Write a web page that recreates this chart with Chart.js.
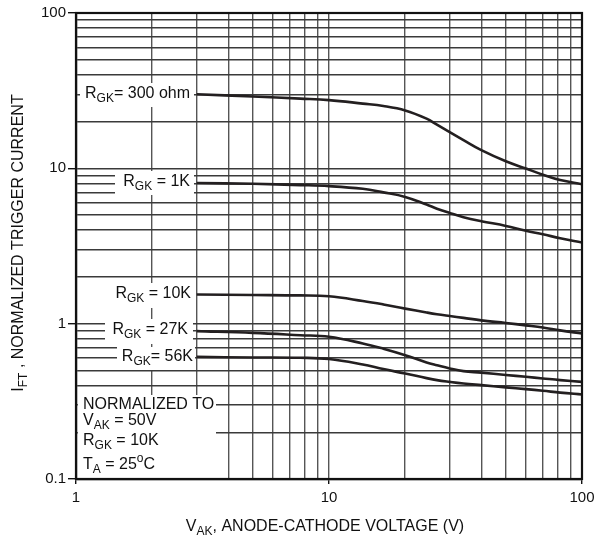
<!DOCTYPE html>
<html>
<head>
<meta charset="utf-8">
<script src="https://cdn.jsdelivr.net/npm/chart.js@4.4.0/dist/chart.umd.min.js"></script>
<style>
html,body{margin:0;padding:0;background:#fff;}
#wrap{width:605px;height:550px;}
</style>
</head>
<body>
<div id="wrap"><canvas id="c" width="605" height="550"></canvas></div>
<script>
// ---- data ----
const vak = [3, 5, 7.7, 10, 13.6, 16.4, 20, 24.3, 26.7, 30, 34, 40, 50, 60, 70, 82, 100];
const ift300 = [30, 29, 28.1, 27.5, 26.1, 25.2, 23.6, 20.9, 19.1, 17.1, 15.2, 13.1, 11.1, 9.97, 9.1, 8.4, 7.9];
const ift1k  = [8.05, 7.95, 7.8, 7.68, 7.38, 7.0, 6.55, 5.85, 5.5, 5.16, 4.85, 4.57, 4.26, 3.96, 3.76, 3.55, 3.33];
const ift10k = [1.54, 1.53, 1.52, 1.50, 1.40, 1.33, 1.25, 1.18, 1.15, 1.12, 1.09, 1.05, 1.01, 0.975, 0.945, 0.905, 0.865];
const ift27k = [0.895, 0.873, 0.843, 0.823, 0.746, 0.69, 0.627, 0.563, 0.54, 0.515, 0.495, 0.484, 0.467, 0.455, 0.444, 0.433, 0.422];
const ift56k = [0.611, 0.606, 0.603, 0.592, 0.546, 0.51, 0.478, 0.446, 0.433, 0.422, 0.412, 0.402, 0.389, 0.379, 0.37, 0.36, 0.35];
const xTickValues = [1,2,3,4,5,6,7,8,9,10,20,30,40,50,60,70,80,90,100];
const yTickValues = [0.1,0.2,0.3,0.4,0.5,0.6,0.7,0.8,0.9,1,2,3,4,5,6,7,8,9,10,20,30,40,50,60,70,80,90,100];
const xMajor = [1, 10, 100];
const yMajor = [0.1, 1, 10, 100];
const xTickLabels = ['1', '10', '100'];
const yTickLabels = ['0.1', '1', '10', '100'];

const FONT = '"Liberation Sans", Arial, Helvetica, sans-serif';
const INK = '#231f20';

function pts(ys){ return vak.map((v,i)=>({x:v, y:ys[i]})); }
function isMajor(v, list){ return list.some(m => Math.abs(m - v) / m < 1e-6); }

function ds(ys){
  return {data: pts(ys), borderColor: INK, borderWidth: 2.6, pointRadius: 0,
          fill: false, tension: 0.4, cubicInterpolationMode: 'default'};
}

// rich text: parts [{t, sub, sup}]
function subSize(size){ return Math.round(size*0.72); }
function richWidth(ctx, parts, size){
  let w = 0;
  for (const p of parts){
    ctx.font = ((p.sub||p.sup) ? subSize(size) : size) + 'px ' + FONT;
    w += ctx.measureText(p.t).width;
  }
  return w;
}
function drawRich(ctx, parts, x, y, size, align){
  const w = richWidth(ctx, parts, size);
  let cx = align === 'right' ? x - w : (align === 'center' ? x - w/2 : x);
  ctx.textBaseline = 'middle';
  ctx.textAlign = 'left';
  ctx.fillStyle = '#111';
  for (const p of parts){
    const s = (p.sub||p.sup) ? subSize(size) : size;
    ctx.font = s + 'px ' + FONT;
    let dy = p.sub ? size*0.32 : (p.sup ? -size*0.38 : 0);
    ctx.fillText(p.t, cx, y + dy);
    cx += ctx.measureText(p.t).width;
  }
  return w;
}

const LS = 16;
const labels = [
  {parts:[{t:'R'},{t:'GK',sub:true},{t:'= 300 ohm'}], x:190, y:94, box:[80,83,194,107]},
  {parts:[{t:'R'},{t:'GK',sub:true},{t:' = 1K'}], x:190, y:182, box:[115,171,194,195]},
  {parts:[{t:'R'},{t:'GK',sub:true},{t:' = 10K'}], x:191, y:294, box:[108,283,194,308]},
  {parts:[{t:'R'},{t:'GK',sub:true},{t:' = 27K'}], x:188, y:330, box:[105,319,193,344]},
  {parts:[{t:'R'},{t:'GK',sub:true},{t:'= 56K'}], x:193, y:357, box:[117,347,195,370]}
];
const noteLines = [
  {parts:[{t:'NORMALIZED TO'}], y:405},
  {parts:[{t:'V'},{t:'AK',sub:true},{t:' = 50V'}], y:421},
  {parts:[{t:'R'},{t:'GK',sub:true},{t:' = 10K'}], y:441},
  {parts:[{t:'T'},{t:'A',sub:true},{t:' = 25'},{t:'o',sup:true},{t:'C'}], y:465}
];

const annot = {
  id: 'annot',
  beforeDatasetsDraw(chart){
    const ctx = chart.ctx;
    ctx.save();
    ctx.fillStyle = '#fff';
    for (const l of labels){
      ctx.fillRect(l.box[0], l.box[1], l.box[2]-l.box[0], l.box[3]-l.box[1]);
    }
    ctx.fillRect(78, 395, 216-78, 478-395);
    for (const l of labels){ drawRich(ctx, l.parts, l.x, l.y, LS, 'right'); }
    for (const n of noteLines){ drawRich(ctx, n.parts, 83, n.y, LS, 'left'); }
    ctx.restore();
  },
  afterDraw(chart){
    const ctx = chart.ctx;
    const a = chart.chartArea;
    ctx.save();
    ctx.strokeStyle = '#111';
    ctx.lineWidth = 2.2;
    ctx.strokeRect(a.left, a.top, a.right - a.left, a.bottom - a.top);
    // x title
    drawRich(ctx, [{t:'V'},{t:'AK',sub:true},{t:', ANODE-CATHODE VOLTAGE (V)'}], 325, 527, LS, 'center');
    // y title
    ctx.translate(19, 243);
    ctx.rotate(-Math.PI/2);
    drawRich(ctx, [{t:'I'},{t:'FT',sub:true},{t:' , NORMALIZED TRIGGER CURRENT'}], 0, 0, LS, 'center');
    ctx.restore();
  }
};

new Chart(document.getElementById('c'), {
  type: 'line',
  data: { datasets: [ds(ift300), ds(ift1k), ds(ift10k), ds(ift27k), ds(ift56k)] },
  options: {
    responsive: false,
    animation: false,
    devicePixelRatio: 1,
    layout: { padding: { top: 13, right: 23, left: 0, bottom: 0 } },
    plugins: { legend: { display: false }, tooltip: { enabled: false } },
    scales: {
      x: {
        type: 'logarithmic', min: 1, max: 100,
        afterBuildTicks(s){ s.ticks = xTickValues.map(v => ({value: v})); },
        afterFit(s){ s.height = 71; },
        grid: {
          color: '#555', lineWidth: 1.4, drawTicks: true, tickLength: 5,
          tickColor: c => (c.tick && isMajor(c.tick.value, xMajor)) ? '#111' : 'rgba(0,0,0,0)'
        },
        border: { color: '#111', width: 2.2 },
        ticks: {
          autoSkip: false, maxRotation: 0, padding: 5, color: '#111',
          font: { family: FONT, size: 15 },
          callback: v => { const i = xMajor.findIndex(m => Math.abs(m - v)/m < 1e-6); return i >= 0 ? xTickLabels[i] : ''; }
        }
      },
      y: {
        type: 'logarithmic', min: 0.1, max: 100,
        afterBuildTicks(s){ s.ticks = yTickValues.map(v => ({value: v})); },
        afterFit(s){ s.width = 76; },
        grid: {
          color: '#3a3a3a', lineWidth: 1.4, drawTicks: true, tickLength: 8,
          tickColor: c => (c.tick && isMajor(c.tick.value, yMajor)) ? '#111' : 'rgba(0,0,0,0)'
        },
        border: { color: '#111', width: 2.2 },
        ticks: {
          autoSkip: false, padding: 2, color: '#111',
          font: { family: FONT, size: 15 },
          callback: v => { const i = yMajor.findIndex(m => Math.abs(m - v)/m < 1e-6); return i >= 0 ? yTickLabels[i] : ''; }
        }
      }
    }
  },
  plugins: [annot]
});
</script>
</body>
</html>
